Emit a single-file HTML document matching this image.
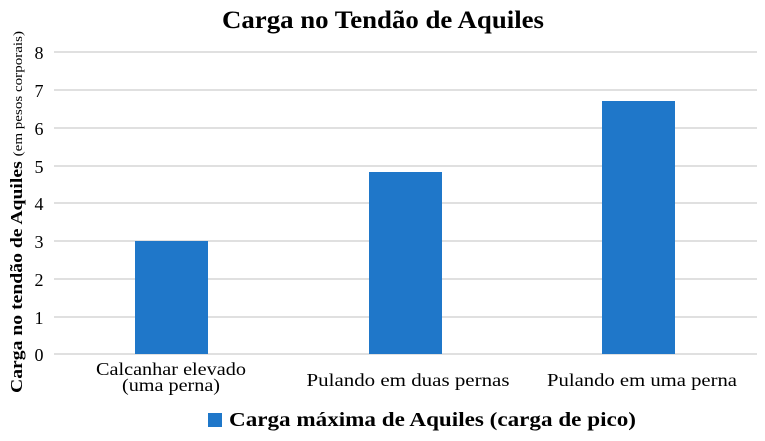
<!DOCTYPE html>
<html><head><style>
body{margin:0;background:#fff;}
svg{display:block;font-family:"Liberation Serif",serif;}
</style></head><body>
<svg width="765" height="441" xmlns="http://www.w3.org/2000/svg">
<text x="383" y="28" text-anchor="middle" font-size="25" font-weight="bold" textLength="322" lengthAdjust="spacingAndGlyphs">Carga no Tendão de Aquiles</text>
<g stroke="#e0e0e0" stroke-width="2">
<line x1="54" x2="757" y1="52" y2="52"/><line x1="54" x2="757" y1="90" y2="90"/>
<line x1="54" x2="757" y1="128" y2="128"/><line x1="54" x2="757" y1="166" y2="166"/>
<line x1="54" x2="757" y1="203" y2="203"/><line x1="54" x2="757" y1="241" y2="241"/>
<line x1="54" x2="757" y1="279" y2="279"/><line x1="54" x2="757" y1="317" y2="317"/>
<line x1="54" x2="757" y1="354" y2="354"/>
</g>
<g font-size="18" text-anchor="middle">
<text x="39" y="59">8</text><text x="39" y="97">7</text><text x="39" y="135">6</text>
<text x="39" y="173">5</text><text x="39" y="210">4</text><text x="39" y="248">3</text>
<text x="39" y="286">2</text><text x="39" y="324">1</text><text x="39" y="361">0</text>
</g>
<g fill="#1f77c9">
<rect x="135" y="241" width="73" height="113"/>
<rect x="369" y="172" width="73" height="182"/>
<rect x="602" y="101" width="73" height="253"/>
</g>
<g font-size="18" text-anchor="middle">
<text x="171" y="375" textLength="150" lengthAdjust="spacingAndGlyphs">Calcanhar elevado</text>
<text x="171" y="391" textLength="98" lengthAdjust="spacingAndGlyphs">(uma perna)</text>
<text x="408" y="386" textLength="203" lengthAdjust="spacingAndGlyphs">Pulando em duas pernas</text>
<text x="642" y="386" textLength="190" lengthAdjust="spacingAndGlyphs">Pulando em uma perna</text>
</g>
<text transform="translate(22,212) rotate(-90)" text-anchor="middle" font-size="17" font-weight="bold" textLength="362" lengthAdjust="spacingAndGlyphs">Carga no tendão de Aquiles <tspan font-size="13" font-weight="normal">(em pesos corporais)</tspan></text>
<rect x="208" y="413" width="14" height="14" fill="#1f77c9"/>
<text x="229" y="426" font-size="20" font-weight="bold" textLength="407" lengthAdjust="spacingAndGlyphs">Carga máxima de Aquiles (carga de pico)</text>
</svg>
</body></html>
